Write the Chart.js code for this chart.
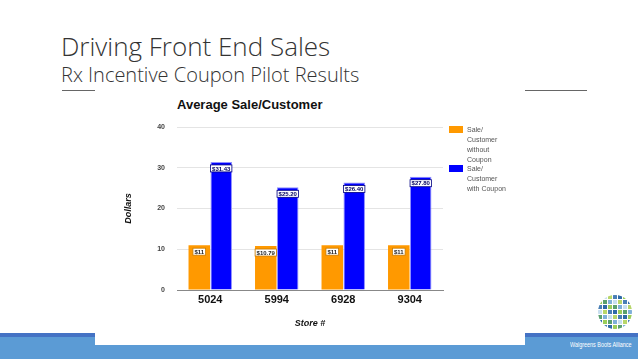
<!DOCTYPE html>
<html><head><meta charset="utf-8">
<script src="https://cdn.jsdelivr.net/npm/chart.js@4"></script>
<style>
html,body{margin:0;padding:0;background:#fff;}
body{width:638px;height:359px;position:relative;overflow:hidden;font-family:"Open Sans",sans-serif;}
#t1{position:absolute;left:61px;top:28px;font-size:26px;font-weight:300;color:#333;white-space:nowrap;}
#t2{position:absolute;left:61px;top:61px;font-size:20px;font-weight:300;color:#333;white-space:nowrap;}
.hl{position:absolute;top:90px;height:1px;background:#666;}
#band{position:absolute;left:0;top:336px;width:638px;height:23px;background:#5b9bd5;}
.dk{position:absolute;top:333px;height:4px;background:#4472c4;}
#panel{position:absolute;left:95px;top:92px;width:430px;height:253px;background:#fff;}
#wba{position:absolute;left:570px;top:340px;font-family:"Liberation Sans",Arial,sans-serif;font-size:8px;color:#fff;white-space:nowrap;transform:scaleX(0.68);transform-origin:0 0;}
#ctitle{position:absolute;left:177px;top:97px;font-family:"Liberation Sans",Arial,sans-serif;font-weight:bold;font-size:13px;color:#111;}
#c{position:absolute;left:95px;top:95px;}
.leg{position:absolute;left:467px;font-family:"Liberation Sans",Arial,sans-serif;font-size:7px;line-height:10px;color:#555;}
.sw{position:absolute;left:449px;width:14px;height:7px;}
#logo{position:absolute;left:598px;top:295px;width:34px;height:34px;border-radius:50%;overflow:hidden;display:grid;grid-template-columns:repeat(7,1fr);gap:1px;}
#logo div{width:100%;height:100%;}
</style></head><body>
<div id="t1">Driving Front End Sales</div>
<div id="t2">Rx Incentive Coupon Pilot Results</div>
<div class="hl" style="left:62px;width:33px"></div>
<div class="hl" style="left:525px;width:62px"></div>
<div id="band"></div>
<div class="dk" style="left:0;width:95px"></div>
<div class="dk" style="left:525px;width:113px"></div>
<div id="panel"></div>
<div id="wba">Walgreens Boots Alliance</div>
<div id="logo"></div>
<div id="ctitle">Average Sale/Customer</div>
<canvas id="c" width="430" height="240"></canvas>
<div class="sw" style="top:126px;background:#ff9900"></div>
<div class="leg" style="top:125px">Sale/<br>Customer<br>without<br>Coupon</div>
<div class="sw" style="top:165px;background:#0000ff"></div>
<div class="leg" style="top:164px">Sale/<br>Customer<br>with Coupon</div>
<script>
const categories = ["5024", "5994", "6928", "9304"];
const withoutCoupon = [11, 10.79, 11, 11];
const withCoupon = [31.43, 25.2, 26.4, 27.8];
const seriesNames = ["Sale/Customer without Coupon", "Sale/Customer with Coupon"];
const yTicks = [0, 10, 20, 30, 40];

// logo
const cols = ["#7fb0d9","#9acd5a","#4a7fb5","#c8dff0","#5aa06e","#2f6aa8","#b7d66a"];
const logo = document.getElementById('logo');
for (let i = 0; i < 49; i++) { const d = document.createElement('div'); d.style.background = cols[(i*3+Math.floor(i/7))%7]; logo.appendChild(d); }

function fmt(v){ return '$' + (Number.isInteger(v) ? v : v.toFixed(2)); }

const labelPlugin = {
  id: 'barLabels',
  afterDatasetsDraw(chart) {
    const ctx = chart.ctx;
    ctx.save();
    ctx.font = 'bold 6px "Liberation Sans", Arial, sans-serif';
    ctx.textAlign = 'center';
    ctx.textBaseline = 'middle';
    chart.data.datasets.forEach((ds, di) => {
      chart.getDatasetMeta(di).data.forEach((bar, i) => {
        const txt = fmt(ds.data[i]);
        const w = ctx.measureText(txt).width + 3;
        const h = 7;
        const cy = bar.y + 3 + h/2;
        ctx.fillStyle = '#fff';
        ctx.fillRect(bar.x - w/2, cy - h/2, w, h);
        ctx.strokeStyle = di === 0 ? '#c77a00' : '#000080';
        ctx.lineWidth = 0.8;
        ctx.strokeRect(bar.x - w/2, cy - h/2, w, h);
        ctx.fillStyle = di === 0 ? '#222' : '#000060';
        ctx.fillText(txt, bar.x, cy + 0.5);
      });
    });
    ctx.restore();
  }
};

new Chart(document.getElementById('c'), {
  type: 'bar',
  data: {
    labels: categories,
    datasets: [
      { label: seriesNames[0], data: withoutCoupon, backgroundColor: '#ff9900', borderWidth: 0,
        categoryPercentage: 0.66, barPercentage: 0.98 },
      { label: seriesNames[1], data: withCoupon, backgroundColor: '#0000ff', borderColor: '#8f8fff', borderWidth: 1,
        categoryPercentage: 0.66, barPercentage: 0.98 }
    ]
  },
  options: {
    responsive: false,
    animation: false,
    devicePixelRatio: 1,
    layout: { padding: { left: 28, top: 32, right: 82, bottom: 6 } },
    plugins: { legend: { display: false }, title: { display: false }, tooltip: { enabled: false } },
    scales: {
      x: {
        grid: { display: false, drawTicks: false },
        border: { color: '#888', width: 1 },
        ticks: { color: '#111', font: { family: '"Liberation Sans", Arial, sans-serif', size: 11, weight: 'bold' }, padding: 3 },
        title: { display: true, text: 'Store #', color: '#111', font: { family: '"Liberation Sans", Arial, sans-serif', size: 9, weight: 'bold', style: 'italic' }, padding: { top: 10, bottom: 0 } },
        afterFit(s) { s.height = 39; }
      },
      y: {
        min: 0, max: 40,
        afterBuildTicks(s) { s.ticks = yTicks.map(v => ({ value: v })); },
        grid: { color: '#e4e4e4', drawTicks: false },
        border: { display: false },
        ticks: { color: '#444', font: { family: '"Liberation Sans", Arial, sans-serif', size: 7, weight: 'bold' }, padding: 12 },
        title: { display: true, text: 'Dollars', color: '#111', font: { family: '"Liberation Sans", Arial, sans-serif', size: 9, weight: 'bold', style: 'italic' }, padding: 0 },
        afterFit(s) { s.width = 54; }
      }
    }
  },
  plugins: [labelPlugin]
});
</script>
</body></html>
